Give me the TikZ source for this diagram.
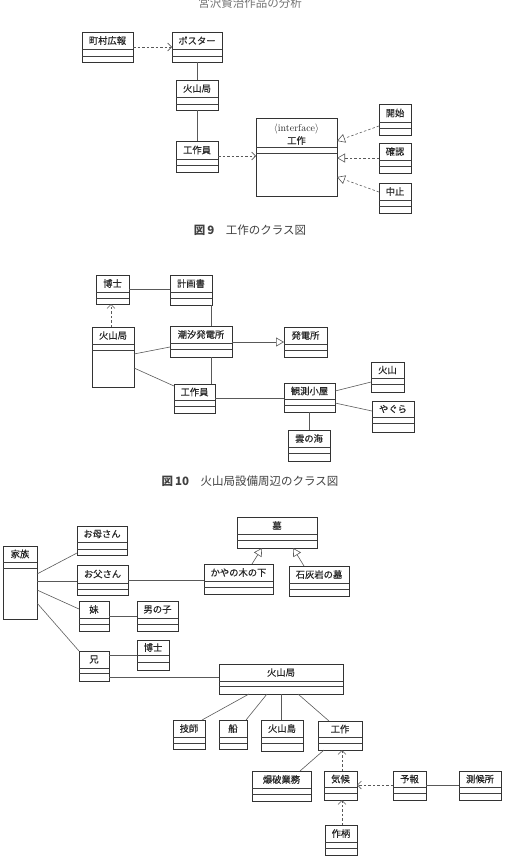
\documentclass[tikz,border=0pt]{standalone}
\usepackage{fontspec}
\newfontfamily\jp{Noto Sans CJK JP}
\newfontfamily\jpl{Noto Sans CJK JP}[FakeBold=0.3]
\usetikzlibrary{arrows.meta,shadows}
\tikzset{
 clsbox/.style={draw=black!80, line width=0.9pt, fill=white, inner sep=0pt, outer sep=0pt,
   drop shadow={shadow xshift=1.3pt, shadow yshift=-1.3pt, fill=black!40, opacity=0.5}},
 cline/.style={draw=black!75, line width=0.6pt},
 clslbl/.style={font=\jpl\fontsize{9.3}{10}\selectfont, text=black!85, inner sep=0pt},
 conn/.style={draw=black!65, line width=0.6pt},
 assoc/.style={conn},
 dep/.style={conn, dash pattern=on 2.5pt off 2pt, -{Straight Barb[length=4pt,width=8pt]}},
 gen/.style={conn, -{Triangle[open,length=8pt,width=9pt]}},
 real/.style={gen, dash pattern=on 2.5pt off 2pt},
 caption/.style={font=\jp\fontsize{11.5}{12}\selectfont, text=black!75, inner sep=0pt},
}
\newcommand\umlcls[8]{%
 \node[clsbox, minimum width={(#4-#2)*1pt}, minimum height={(#5-#3)*1pt}] (#1) at ({(#2+#4)/2},{(#3+#5)/2}) {};
 \draw[cline] (#2,#6) -- (#4,#6) (#2,#7) -- (#4,#7);
 \node[clslbl] (#1-t) at ({(#2+#4)/2},{(#3+#6)/2}) {#8};
}
\begin{document}
\begin{tikzpicture}[x=1pt,y=-1pt]
\useasboundingbox (0,0) rectangle (505,867);
\clip (0,0) rectangle (505,867);
\node[caption, text=black!55] (head) at (250,3) {宮沢賢治作品の分析};

% ---------- Fig 9 ----------
\umlcls{mura}{82}{32}{133}{62}{49}{56}{町村広報}
\umlcls{poster}{172}{32}{222}{62}{49}{56}{ポスター}
\umlcls{kazanA}{176}{80}{218}{110}{97}{104}{火山局}
\umlcls{kousakuinA}{176}{141}{218}{172}{159}{165}{工作員}
\node[clsbox, minimum width=81pt, minimum height=78pt] (iface) at (296.5,157) {};
\draw[cline] (256,147) -- (337,147) (256,153) -- (337,153);
\node[font=\fontsize{10}{10}\selectfont, text=black!85, inner sep=0pt] (iface-s) at (296.5,129) {$\langle$interface$\rangle$};
\node[clslbl] (iface-t) at (296.5,140.5) {工作};
\umlcls{kaishi}{379}{104}{411}{135}{122}{128}{開始}
\umlcls{kakunin}{379}{143}{411}{173}{160}{166}{確認}
\umlcls{chushi}{379}{183}{411}{213}{200}{206}{中止}

\draw[dep] (mura.east |- 0,47) -- (poster.west |- 0,47);
\draw[assoc] (poster.south) -- (kazanA.north);
\draw[assoc] (kazanA.south) -- (kousakuinA.north);
\draw[dep] (kousakuinA.east |- 0,156) -- (iface.west |- 0,156);
\draw[real] (kaishi.west |- 0,126) -- (iface.east |- 0,141);
\draw[real] (kakunin.west |- 0,158) -- (iface.east |- 0,158);
\draw[real] (chushi.west |- 0,192) -- (iface.east |- 0,177);

\node[caption] (cap9) at (250,230) {{\bfseries 図\,9}\hspace{1em}工作のクラス図};

% ---------- Fig 10 ----------
\umlcls{hakaseB}{96}{275}{129}{304}{292}{298}{博士}
\umlcls{keikaku}{170}{275}{212}{305}{292}{298}{計画書}
\umlcls{kazanB}{92}{327}{134}{387}{344}{350}{火山局}
\umlcls{chouseki}{170}{326}{232}{357}{343}{349}{潮汐発電所}
\umlcls{hatsuden}{284}{327}{327}{357}{344}{350}{発電所}
\umlcls{kousakuinB}{174}{384}{215}{413}{400}{406}{工作員}
\umlcls{kansoku}{284}{383}{335}{412}{399}{405}{観測小屋}
\umlcls{kazanC}{371}{362}{404}{392}{378}{384}{火山}
\umlcls{yagura}{372}{401}{414}{432}{417}{423}{やぐら}
\umlcls{kumo}{288}{430}{330}{461}{447}{453}{雲の海}

\draw[assoc] (hakaseB.east |- 0,289) -- (keikaku.west |- 0,289);
\draw[dep] (111,0 |- kazanB.north) -- (111,0 |- hakaseB.south);
\draw[assoc] (211,0 |- keikaku.south) -- (211,0 |- chouseki.north);
\draw[gen] (chouseki.east |- 0,342) -- (hatsuden.west |- 0,342);
\draw[assoc] (kazanB.east |- 0,354) -- (chouseki.west |- 0,347);
\draw[assoc] (211,0 |- chouseki.south) -- (211,0 |- kousakuinB.north);
\draw[assoc] (kazanB.east |- 0,368) -- (kousakuinB.west |- 0,386);
\draw[assoc] (kousakuinB.east |- 0,398) -- (kansoku.west |- 0,398);
\draw[assoc] (kansoku.east |- 0,391) -- (kazanC.west |- 0,382);
\draw[assoc] (kansoku.east |- 0,403) -- (yagura.west |- 0,411);
\draw[assoc] (309,0 |- kansoku.south) -- (309,0 |- kumo.north);

\node[caption] (cap10) at (250,481) {{\bfseries 図\,10}\hspace{1em}火山局設備周辺のクラス図};

% ---------- Fig 11 ----------
\umlcls{kazoku}{3}{546}{37}{619}{562}{568}{家族}
\umlcls{okaasan}{77}{526}{127}{555}{542}{549}{お母さん}
\umlcls{otousan}{77}{565}{128}{595}{583}{589}{お父さん}
\umlcls{imouto}{79}{601}{109}{631}{618}{624}{妹}
\umlcls{otoko}{137}{601}{178}{631}{618}{624}{男の子}
\umlcls{ani}{79}{651}{109}{681}{668}{673}{兄}
\umlcls{hakaseC}{137}{640}{169}{670}{655}{662}{博士}
\umlcls{haka}{237}{517}{317}{548}{534}{540}{墓}
\umlcls{kaya}{204}{564}{273}{594}{581}{587}{かやの木の下}
\umlcls{sekkai}{289}{566}{349}{596}{583}{589}{石灰岩の墓}
\umlcls{kazanD}{219}{664}{343}{694}{681}{686}{火山局}
\umlcls{gishi}{173}{720}{205}{749}{737}{743}{技師}
\umlcls{fune}{219}{720}{247}{749}{737}{743}{船}
\umlcls{kazanto}{261}{720}{303}{751}{737}{743}{火山島}
\umlcls{kousaku}{318}{721}{362}{750}{737}{743}{工作}
\umlcls{bakuha}{252}{771}{311}{801}{788}{794}{爆破業務}
\umlcls{kikou}{324}{771}{357}{800}{787}{793}{気候}
\umlcls{yohou}{393}{771}{426}{800}{787}{793}{予報}
\umlcls{sokkou}{459}{771}{501}{800}{787}{793}{測候所}
\umlcls{sakugara}{325}{825}{357}{855}{842}{848}{作柄}

\draw[assoc] (kazoku.east |- 0,574) -- (okaasan.west |- 0,553);
\draw[assoc] (kazoku.east |- 0,581) -- (otousan.west |- 0,581);
\draw[assoc] (otousan.east |- 0,580) -- (kaya.west |- 0,580);
\draw[assoc] (kazoku.east |- 0,590) -- (imouto.west |- 0,609);
\draw[assoc] (kazoku.east |- 0,603) -- (ani.north west);
\draw[assoc] (imouto.east |- 0,616) -- (otoko.west |- 0,616);
\draw[assoc] (ani.east |- 0,655) -- (hakaseC.west |- 0,655);
\draw[assoc] (ani.east |- 0,677) -- (kazanD.west |- 0,677);
\draw[gen] (252,0 |- kaya.north) -- (262,0 |- haka.south);
\draw[gen] (304,0 |- sekkai.north) -- (293,0 |- haka.south);
\draw[assoc] (249,0 |- kazanD.south) -- (202,0 |- gishi.north);
\draw[assoc] (267,0 |- kazanD.south) -- (246,0 |- fune.north);
\draw[assoc] (281,0 |- kazanD.south) -- (281,0 |- kazanto.north);
\draw[assoc] (298,0 |- kazanD.south) -- (329,0 |- kousaku.north);
\draw[assoc] (324,0 |- kousaku.south) -- (300,0 |- bakuha.north);
\draw[dep] (342,0 |- kikou.north) -- (342,0 |- kousaku.south);
\draw[dep] (yohou.west |- 0,785) -- (kikou.east |- 0,785);
\draw[assoc] (yohou.east |- 0,785) -- (sokkou.west |- 0,785);
\draw[dep] (342,0 |- sakugara.north) -- (342,0 |- kikou.south);
\end{tikzpicture}
\end{document}
